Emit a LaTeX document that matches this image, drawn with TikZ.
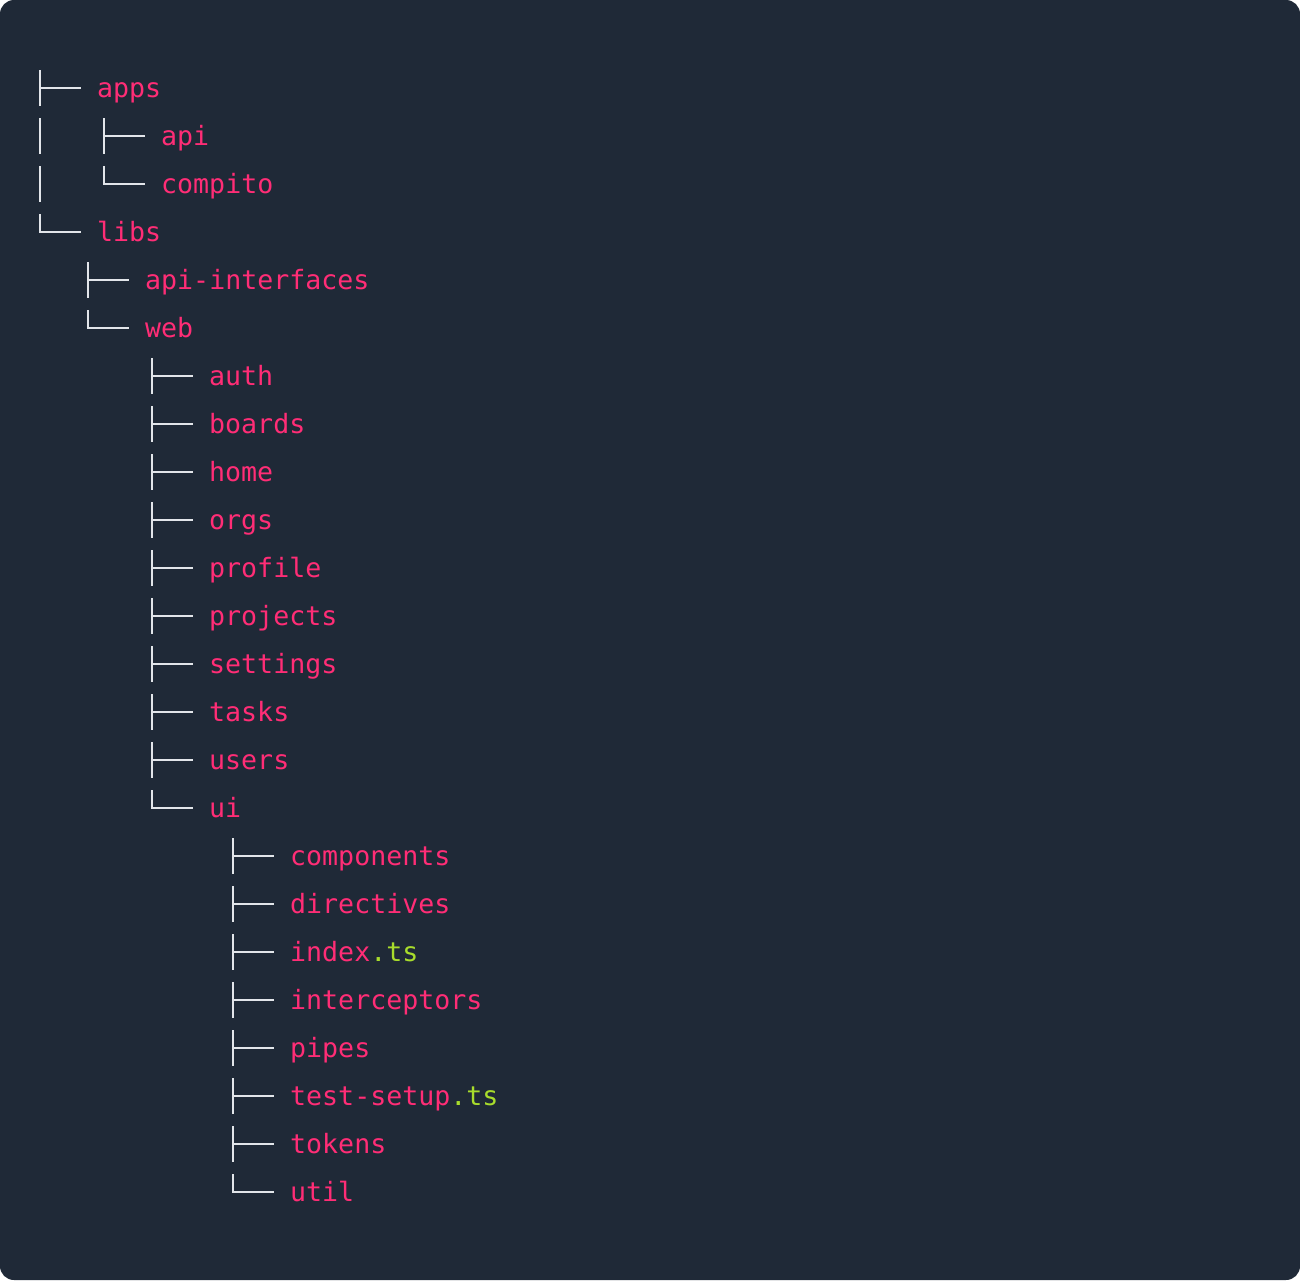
\documentclass[tikz,border=0pt]{standalone}
\usepackage{fontspec}
\newfontfamily\treefont{DejaVu Sans Mono}

\definecolor{termbg}{HTML}{1F2937}
\definecolor{dirpink}{HTML}{FF2D76}
\definecolor{tsgreen}{HTML}{A8DC2C}
\definecolor{treegray}{HTML}{E2E5EA}

\newcommand{\ts}{\textcolor{tsgreen}{.ts}}

\begin{document}
\begin{tikzpicture}[x=1pt,y=-1pt]
   \tikzstyle{entry}=[anchor=west,inner sep=0,text height=25pt,text depth=6pt,
      text=dirpink,font=\treefont\fontsize{26.6}{32}\selectfont]
   \tikzstyle{branch}=[draw=treegray,line width=2.6pt]

   \useasboundingbox (0,0) rectangle (1300,1280) ;
   \fill [white] (0,0) rectangle (1300,1280) ;
   \fill [termbg,rounded corners=14pt] (0,0) rectangle (1300,1280) ;

   % entries: name / text / x of text / row
   \foreach \n/\t/\x/\r in {apps/apps/97/0, api/api/161/1, compito/compito/161/2,
      libs/libs/97/3, apiif/api-interfaces/145/4, web/web/145/5,
      auth/auth/209/6, boards/boards/209/7, home/home/209/8, orgs/orgs/209/9,
      profile/profile/209/10, projects/projects/209/11, settings/settings/209/12,
      tasks/tasks/209/13, users/users/209/14, ui/ui/209/15,
      components/components/290/16, directives/directives/290/17,
      index/{index\ts}/290/18, interceptors/interceptors/290/19,
      pipes/pipes/290/20, testsetup/{test-setup\ts}/290/21,
      tokens/tokens/290/22, util/util/290/23}
      \node (\n) [entry] at (\x,88+48*\r) {\t} ;

   % tee branches
   \foreach \n in {apps,api,apiif,auth,boards,home,orgs,profile,projects,
      settings,tasks,users,components,directives,index,interceptors,pipes,
      testsetup,tokens}
      \draw [branch] ([xshift=-57pt]\n.west) +(0,-18) -- +(0,18) +(0,0) -- +(41,0) ;

   % last branches
   \foreach \n in {compito,libs,web,ui,util}
      \draw [branch] ([xshift=-57pt]\n.west) +(0,-18) |- +(41,0) ;

   % apps continues down to libs
   \foreach \n in {api,compito}
      \draw [branch] ([xshift=-121pt]\n.west) +(0,-18) -- +(0,18) ;

\end{tikzpicture}
\end{document}
